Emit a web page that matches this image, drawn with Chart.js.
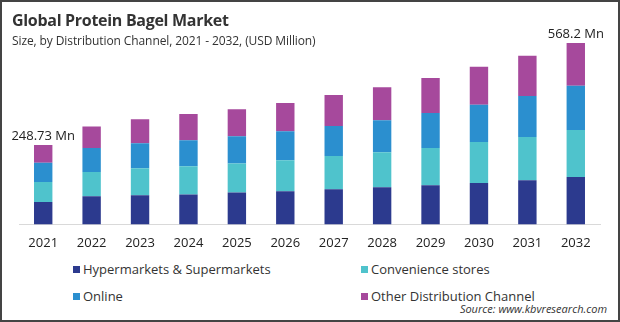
<!DOCTYPE html>
<html>
<head>
<meta charset="utf-8">
<script src="https://cdn.jsdelivr.net/npm/chart.js@4"></script>
<style>
  body { margin: 0; background: #fff; font-family: "Open Sans", sans-serif; }
  #wrap { position: relative; width: 620px; height: 322px; overflow: hidden; background: #fff; }
  #frame { position: absolute; left: 0; top: 0; width: 620px; height: 322px; box-sizing: border-box; border: 2px solid #444; pointer-events: none; }
  #chart { position: absolute; left: 0; top: 0; }
  .title { position: absolute; left: 12px; top: 9px; font-size: 16px; font-weight: 700; color: #333; letter-spacing: -0.3px; }
  .sub { position: absolute; left: 12px; top: 32px; font-size: 12px; color: #333; letter-spacing: -0.1px; }
  .leg { position: absolute; font-size: 13px; color: #333; line-height: 16px; white-space: nowrap; }
  .leg i { display: inline-block; width: 7px; height: 7px; margin-right: 3px; vertical-align: 1px; }
  .src { position: absolute; right: 13px; top: 301px; font-size: 11px; font-style: italic; color: #333; }
</style>
</head>
<body>
<div id="wrap">
  <canvas id="chart" width="620" height="254"></canvas>
  <div class="title">Global Protein Bagel Market</div>
  <div class="sub">Size, by Distribution Channel, 2021 - 2032, (USD Million)</div>
  <div id="legend"></div>
  <div class="src">Source: www.kbvresearch.com</div>
  <div id="frame"></div>
</div>

<script>
  var years = ["2021", "2022", "2023", "2024", "2025", "2026", "2027", "2028", "2029", "2030", "2031", "2032"]
  var hypermarkets = [70, 88, 91, 94, 100, 104, 110, 116, 123, 130, 138, 148.5]
  var convenience = [63, 76, 85, 88, 91, 97, 104, 110, 116, 128, 136, 147.5]
  var online = [60, 75, 78.5, 82, 85, 91, 94, 100, 110, 117, 128, 138]
  var other = [55.73, 68, 75, 82, 85, 88, 97, 104, 110, 119, 126, 134.2]
  var totalLabels = ["248.73 Mn", "", "", "", "", "", "", "", "", "", "", "568.2 Mn"]

  var series = [
    { label: "Hypermarkets & Supermarkets", data: hypermarkets, color: "#2c3a8e" },
    { label: "Convenience stores", data: convenience, color: "#4fc3cc" },
    { label: "Online", data: online, color: "#2b8fcf" },
    { label: "Other Distribution Channel", data: other, color: "#a6499c" }
  ]

  // legend, 2 columns
  var legPos = [[73, 261], [361, 261], [73, 288], [361, 288]]
  var lg = ""
  series.forEach((s, i) => {
    lg += "<div class='leg' style='left:" + legPos[i][0] + "px;top:" + legPos[i][1] + "px'><i style='background:" + s.color + "'></i>" + s.label + "</div>"
  })
  document.querySelector('#legend').innerHTML = lg

  var totalsPlugin = {
    id: 'totals',
    afterDatasetsDraw(chart) {
      let ctx = chart.ctx
      let meta = chart.getDatasetMeta(chart.data.datasets.length - 1)
      ctx.save()
      ctx.font = "13px 'Open Sans'"
      ctx.fillStyle = "#222"
      ctx.textAlign = "center"
      ctx.textBaseline = "middle"
      totalLabels.forEach((t, i) => {
        if (!t) return
        let bar = meta.data[i]
        ctx.fillText(t, bar.x, bar.y - 9)
      })
      ctx.restore()
    }
  }

  var ctx = document.getElementById('chart').getContext('2d')
  new Chart(ctx, {
    type: 'bar',
    data: {
      labels: years,
      datasets: series.map(s => ({
        label: s.label,
        data: s.data,
        backgroundColor: s.color,
        borderWidth: 0,
        barPercentage: 0.38,
        categoryPercentage: 1
      }))
    },
    options: {
      responsive: false,
      animation: false,
      layout: { padding: { left: 19, right: 20, top: 30, bottom: 0 } },
      plugins: { legend: { display: false }, tooltip: { enabled: false }, title: { display: false } },
      scales: {
        x: {
          stacked: true,
          grid: { display: false },
          border: { display: true, color: "#d9d9d9", width: 1 },
          ticks: { color: "#222", padding: 3, font: { family: "Open Sans", size: 13 } }
        },
        y: {
          stacked: true,
          display: false,
          min: 0,
          max: 609
        }
      }
    },
    plugins: [totalsPlugin]
  })
</script>
</body>
</html>
